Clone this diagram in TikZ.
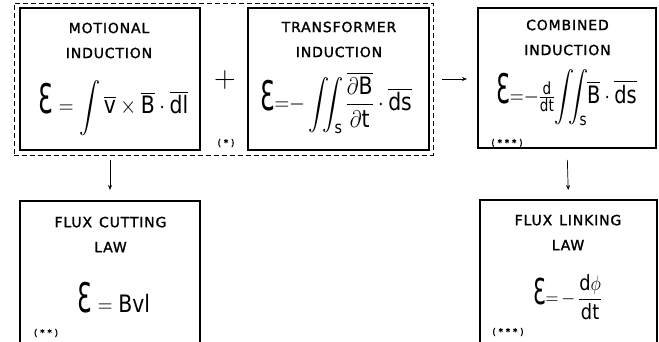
\RequirePackage{fix-cm}
\documentclass[tikz,border=0pt]{standalone}
\usepackage{amsmath}
\usepackage{graphicx}
\usepackage{fontspec}
\setmainfont{DejaVu Sans}
\newfontfamily\headfont[LetterSpace=6,FakeBold=1.5]{DejaVu Sans}
\newfontfamily\notefont[LetterSpace=30,FakeBold=1.5]{DejaVu Sans}
\usetikzlibrary{arrows.meta,positioning,fit}

\newcommand{\emf}{\scalebox{1.15}[1.7]{Ɛ}}
\newcommand{\vb}[1]{\overline{\text{#1}}}

\tikzset{
  lawbox/.style={draw,line width=1.1pt,minimum width=180pt,minimum height=142pt,inner sep=0pt,outer sep=0pt},
  pairbox/.style={draw,dashed,line width=0.7pt,dash pattern=on 5pt off 3pt,inner sep=0pt,outer sep=0pt},
  heading/.style={font=\fontsize{14}{25}\headfont,align=center},
  formula/.style={font=\fontsize{24}{28}\selectfont,inner sep=0pt,xscale=0.85,transform shape},
  note/.style={font=\fontsize{9}{9}\notefont},
  flow/.style={-{Stealth[length=5pt,width=4pt]},line width=0.7pt}
}

\begin{document}
\begin{tikzpicture}[x=1pt,y=-1pt]
  \useasboundingbox (0,0) rectangle (659,342);
  % boxes
  \node[lawbox] (motional) at (110,79) {};
  \node[lawbox,minimum width=181pt] (transformer) at (338.5,79) {};
  \node[lawbox,minimum width=178pt,minimum height=140pt] (combined) at (567,78) {};
  \node[lawbox,minimum height=160pt] (cutting) at (110,281) {};
  \node[lawbox,minimum width=177pt,minimum height=160pt] (linking) at (568.5,280) {};
  \node[pairbox,minimum width=419pt,minimum height=152pt] (pair) at (223.5,79) {};

  % headings
  \node[heading] (motionalhead) at (109,40.5) {MOTIONAL\\INDUCTION};
  \node[heading] (transformerhead) at (339,39.5) {TRANSFORMER\\INDUCTION};
  \node[heading] (combinedhead) at (567.5,37.5) {COMBINED\\INDUCTION};
  \node[heading] (cuttinghead) at (110.5,234.5) {FLUX\enspace CUTTING\\LAW};
  \node[heading] (linkinghead) at (568,232.5) {FLUX\enspace LINKING\\LAW};

  % formulas
  \node[formula] (motionaleq) at (113.5,108) {$\emf = \displaystyle\int \vb{v}\times\vb{B}\cdot\vb{dl}$};
  \node[formula] (transformereq) at (336,103) {$\emf{=}{-}\displaystyle\iint_{\text{s}} \frac{\overline{\partial\text{B}}}{\partial\text{t}}\cdot\vb{ds}$};
  \node[formula,xscale=0.95] (combinedeq) at (566.5,98) {$\emf{=}{-}\frac{\text{d}}{\text{dt}}\displaystyle\!\iint_{\text{s}}\!\vb{B}\cdot\vb{ds}$};
  \node[formula] (cuttingeq) at (114,298) {$\emf = \text{Bvl}$};
  \node[formula,font=\fontsize{21}{25}\selectfont] (linkingeq) at (567.5,297) {$\emf{=}\,{-}\,\dfrac{\text{d}\phi}{\text{dt}}$};

  % plus sign and notes
  \node[font=\fontsize{30}{30}\selectfont] (plus) at (225,80) {$+$};
  \node[note] (star1) at (226,143) {(*)};
  \node[note] (star3a) at (507,143) {(***)};
  \node[note] (star2) at (46,333) {(**)};
  \node[note] (star3b) at (508,332) {(***)};

  % arrows
  \draw[flow,shorten <=5pt,shorten >=11pt] (pair.south -| motional.south) -- (cutting.north);
  \draw[flow,shorten <=9pt,shorten >=11pt] (pair.east) -- (combined.west |- pair.east);
  \draw[flow,shorten <=12pt,shorten >=10pt] (combined.south) -- (linking.north);
\end{tikzpicture}
\end{document}
